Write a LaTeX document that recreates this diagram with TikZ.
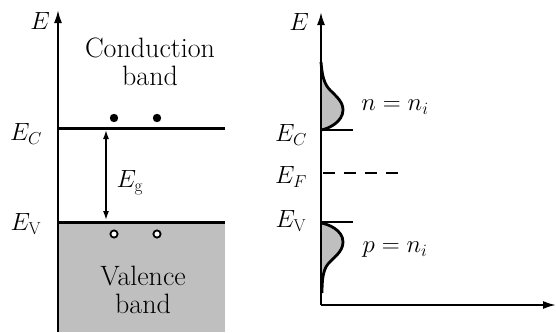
\documentclass[tikz,border=0pt]{standalone}
\usetikzlibrary{arrows.meta}
\begin{document}
\begin{tikzpicture}[x=1pt,y=-1pt,
  txt/.style={font=\fontsize{28}{32}\selectfont, align=center, inner sep=0pt},
  lbl/.style={font=\fontsize{23}{26}\selectfont, inner sep=0pt},
  axis/.style={line width=2pt, -{Latex[length=13pt,width=8pt]}},
  level/.style={line width=3pt},
  bandfill/.style={fill=black!25},
  dos/.style={line width=2.8pt, fill=black!25}]
\useasboundingbox (0,0) rectangle (556,332);
% ---------- left panel ----------
\fill[bandfill] (58,222) rectangle (225,332);
\coordinate (lbot) at (58,332);
\coordinate (ltop) at (58,10);
\draw[axis] (lbot) -- (ltop);
\node[lbl] (E1) at (40,21) {$E$};
\coordinate (ec0) at (58,128);
\coordinate (ec1) at (225,128);
\coordinate (ev0) at (58,222);
\coordinate (ev1) at (225,222);
\draw[level] (ec0) -- (ec1);
\draw[level] (ev0) -- (ev1);
\node[lbl] (EC1) at (26,134) {$E_C$};
\node[lbl] (EV1) at (26,224) {$E_\mathrm{V}$};
\node[txt] (cb) at (150,62) {Conduction\\[-4pt]band};
\node[txt] (vb) at (143,290) {Valence\\[-4pt]band};
\fill (114,118) circle (4.2pt) (157,118) circle (4.2pt);
\draw[line width=1.8pt, fill=white] (114,234) circle (3.6pt) (157,234) circle (3.6pt);
\coordinate (ga) at (106,130);
\coordinate (gb) at (106,220);
\draw[line width=1.5pt, {Latex[length=9pt,width=6pt]}-{Latex[length=9pt,width=6pt]}] (ga) -- (gb);
\node[lbl] (Eg) at (130,183) {$E_\mathrm{g}$};
% ---------- right panel ----------
\coordinate (o) at (321,305);
\coordinate (rtop) at (321,12);
\coordinate (rright) at (556,305);
\draw[dos] (321,62) .. controls (322,75) and (324,84) .. (330,90)
  .. controls (337,97) and (343,102) .. (343,110)
  .. controls (343,122) and (328,129) .. (321,130);
\draw[dos] (321,223) .. controls (328,224) and (343,230) .. (343,242)
  .. controls (343,252) and (333,258) .. (328,264)
  .. controls (323,270) and (322,280) .. (322,293);
\draw[line width=2pt] (o) -- (321,70);
\draw[axis] (321,80) -- (rtop);
\draw[axis] (o) -- (rright);
\node[lbl] (E2) at (299,22) {$E$};
\coordinate (rc0) at (321,130);
\coordinate (rc1) at (353,130);
\coordinate (rv0) at (321,222);
\coordinate (rv1) at (353,222);
\draw[line width=1.8pt] (rc0) -- (rc1);
\draw[line width=1.8pt] (rv0) -- (rv1);
\coordinate (rf0) at (323,173);
\coordinate (rf1) at (403,173);
\draw[line width=1.6pt, dash pattern=on 12pt off 9pt] (rf0) -- (rf1);
\node[lbl] (EC2) at (291,135) {$E_C$};
\node[lbl] (EF2) at (291,177) {$E_F$};
\node[lbl] (EV2) at (291,221) {$E_\mathrm{V}$};
\node[lbl] (nlab) at (395,107) {$n = n_i$};
\node[lbl] (plab) at (395,250) {$p = n_i$};
\end{tikzpicture}
\end{document}
